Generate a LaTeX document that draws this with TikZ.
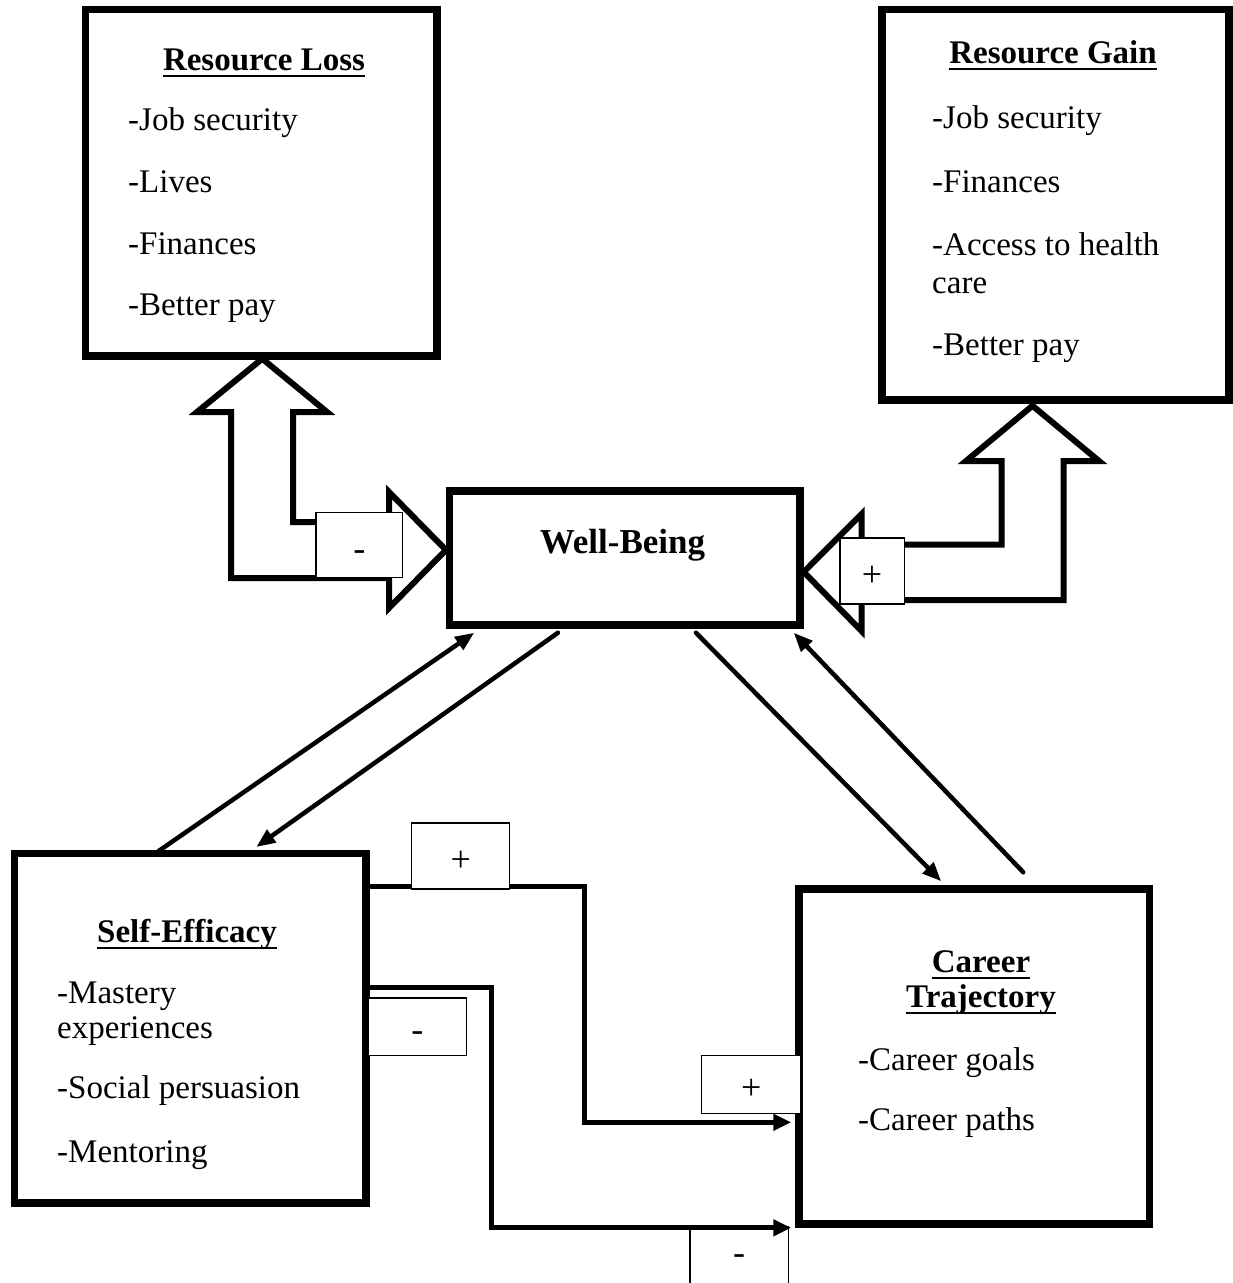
\documentclass[tikz,border=0pt]{standalone}
\usepackage{fontspec}
\setmainfont{Liberation Serif}
\usetikzlibrary{arrows.meta,calc}
\begin{document}
\begin{tikzpicture}[x=1pt,y=-1pt,
  box/.style={draw, line width=7.5pt, inner sep=0pt, rectangle},
  itm/.style={anchor=base west, inner sep=0pt, font=\fontsize{33}{39}\selectfont},
  ttl/.style={anchor=base, inner sep=0pt, font=\fontsize{33}{39}\selectfont\bfseries},
  ul/.style={line width=2.5pt},
  hollow/.style={draw, line width=6pt, line join=miter},
  elbow/.style={line width=5pt, -{Triangle[length=18pt,width=16pt]}},
  diag/.style={line width=4.5pt, line cap=round, -{Triangle[length=19pt,width=15pt]}},
  sign/.style={draw, fill=white, line width=1.3pt, inner sep=0pt, text height=30pt, text depth=0pt, font=\fontsize{36}{36}\selectfont}
]
\fill[white] (0,0) rectangle (1233,1283);
\useasboundingbox (0,0) rectangle (1233,1283);

% main boxes
\node[box, minimum width=351.5pt, minimum height=346.5pt] (rl) at (261.25,182.75) {};
\node[box, minimum width=347pt, minimum height=390.5pt] (rg) at (1055.5,204.75) {};
\node[box, minimum width=350.3pt, minimum height=134pt] (wb) at (624.85,558) {};
\node[box, minimum width=351.5pt, minimum height=349.3pt] (se) at (190.25,1028.35) {};
\node[box, minimum width=350.5pt, minimum height=335pt] (ct) at (974.25,1056.5) {};

% Resource Loss text
\node[ttl] (rlt) at (264,70) {Resource Loss};
\draw[ul] ($(rlt.base west)+(0,6)$) -- ($(rlt.base east)+(0,6)$);
\node[itm] (rl1) at (128,130) {-Job security};
\node[itm] (rl2) at (128,192) {-Lives};
\node[itm] (rl3) at (128,254) {-Finances};
\node[itm] (rl4) at (128,315) {-Better pay};

% Resource Gain text
\node[ttl] (rgt) at (1053,63) {Resource Gain};
\draw[ul] ($(rgt.base west)+(0,6)$) -- ($(rgt.base east)+(0,6)$);
\node[itm] (rg1) at (932,128) {-Job security};
\node[itm] (rg2) at (932,192) {-Finances};
\node[itm] (rg3) at (932,255) {-Access to health};
\node[itm] (rg3b) at (932,293) {care};
\node[itm] (rg4) at (932,355) {-Better pay};

% Well-Being text
\node[ttl, font=\fontsize{35}{41}\selectfont\bfseries] (wbt) at (622.5,553) {Well-Being};

% Self-Efficacy text
\node[ttl] (set) at (187,942) {Self-Efficacy};
\draw[ul] ($(set.base west)+(0,6)$) -- ($(set.base east)+(0,6)$);
\node[itm] (se1) at (57,1003) {-Mastery};
\node[itm] (se1b) at (57,1038) {experiences};
\node[itm] (se2) at (57,1098) {-Social persuasion};
\node[itm] (se3) at (57,1162) {-Mentoring};

% Career Trajectory text
\node[ttl] (ctt1) at (981,972) {Career};
\draw[ul] ($(ctt1.base west)+(0,6)$) -- ($(ctt1.base east)+(0,6)$);
\node[ttl] (ctt2) at (981,1007) {Trajectory};
\draw[ul] ($(ctt2.base west)+(0,6)$) -- ($(ctt2.base east)+(0,6)$);
\node[itm] (ct1) at (858,1070) {-Career goals};
\node[itm] (ct2) at (858,1130) {-Career paths};

% bottom sign box lies under the lower connector
\node[sign, minimum width=98.3pt, minimum height=80pt, text height=0pt, text depth=6pt] (s6) at (739.2,1267) {-};

% hollow double-headed block arrows
\coordinate (wbL) at ($(wb.west)+(0,-8)$);
\coordinate (rlB) at ($(rl.south)+(1,-1)$);
\draw[hollow] (rlB) -- (197,412) -- (231,412) -- (231,578) -- (389,578) -- (389,608)
  -- (wbL) -- (389,492) -- (389,522) -- (293,522) -- (293,412) -- (327,412) -- cycle;

\coordinate (wbR) at ($(wb.east)+(0,14)$);
\coordinate (rgB) at ($(rg.south)+(-23,2)$);
\draw[hollow] (rgB) -- (966,461) -- (1001.5,461) -- (1001.5,544.5) -- (861.5,544.5) -- (861.5,514)
  -- (wbR) -- (861.5,631) -- (861.5,600) -- (1063.5,600) -- (1063.5,461) -- (1099,461) -- cycle;

% diagonal arrows
\draw[diag] ($(se.north west)+(148,1)$) -- ($(wb.south west)+(28.3,4)$);
\draw[diag] ($(wb.south west)+(112,4)$) -- ($(se.north west)+(245.5,-3)$);
\draw[diag] ($(wb.south west)+(250,4)$) -- ($(ct.north west)+(146,-4)$);
\draw[diag] ($(ct.north west)+(228,-13)$) -- ($(wb.south east)+(-10,4)$);

% elbow arrows
\draw[elbow] ($(se.north east)+(0,37)$) -- ++(215,0) |- ($(ct.north west)+(-4,237)$);
\draw[elbow] ($(se.north east)+(0,138)$) -- ++(122,0) |- ($(ct.south west)+(-4,0)$);

% sign labels
\node[sign, minimum width=86.7pt, minimum height=64.6pt] (s1) at (359.4,545) {-};
\node[sign, minimum width=64.3pt, minimum height=66pt] (s2) at (872,571) {+};
\node[sign, minimum width=98pt, minimum height=66pt] (s3) at (460.7,856) {+};
\node[sign, minimum width=98.7pt, minimum height=57.7pt] (s4) at (417.3,1026.8) {-};
\node[sign, minimum width=99pt, minimum height=57.6pt] (s5) at (751.2,1084.5) {+};
\end{tikzpicture}
\end{document}
